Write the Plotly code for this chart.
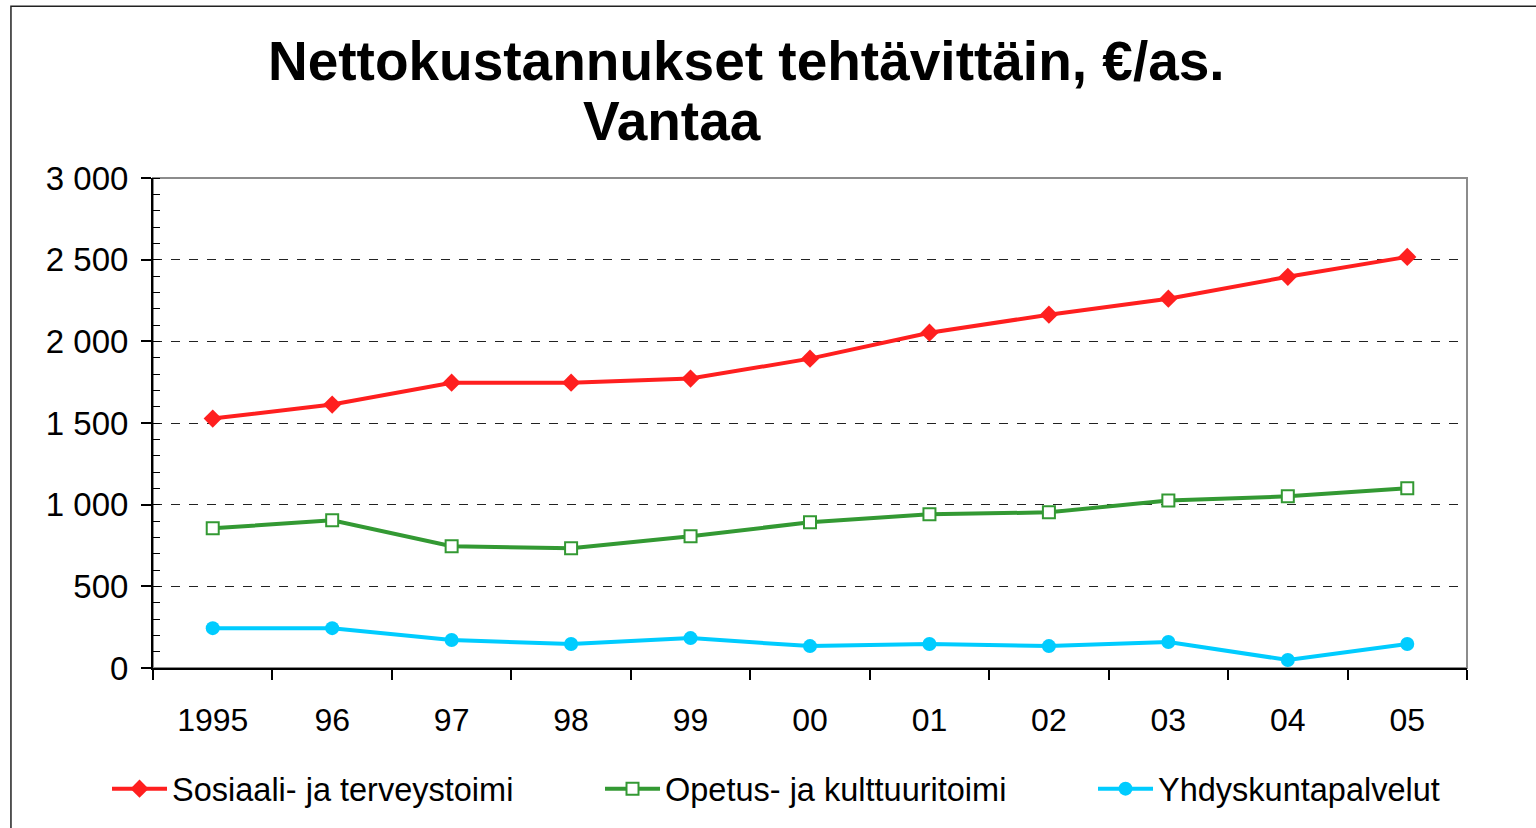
import plotly.graph_objects as go

years = ["1995", "96", "97", "98", "99", "00", "01", "02", "03", "04", "05"]
sosiaali = [1527, 1613, 1747, 1747, 1772, 1894, 2053, 2163, 2261, 2395, 2517]
opetus = [855, 904, 745, 733, 807, 892, 941, 953, 1026, 1051, 1100]
yhdyskunta = [244, 244, 171, 147, 183, 134, 147, 134, 159, 49, 147]

y_ticks = [0, 500, 1000, 1500, 2000, 2500, 3000]
y_ticklabels = ["0", "500", "1 000", "1 500", "2 000", "2 500", "3 000"]

FONT = "Liberation Sans, Arial, sans-serif"

fig = go.Figure()
fig.add_trace(go.Scatter(
    x=years, y=sosiaali, name="Sosiaali- ja terveystoimi", mode="lines+markers",
    line=dict(color="#ff1f1f", width=4),
    marker=dict(symbol="diamond", size=14, color="#ff1f1f"),
    legendwidth=423,
))
fig.add_trace(go.Scatter(
    x=years, y=opetus, name="Opetus- ja kulttuuritoimi", mode="lines+markers",
    line=dict(color="#339933", width=4),
    marker=dict(symbol="square", size=12, color="white", line=dict(color="#339933", width=2)),
    legendwidth=423,
))
fig.add_trace(go.Scatter(
    x=years, y=yhdyskunta, name="Yhdyskuntapalvelut", mode="lines+markers",
    line=dict(color="#00ccff", width=4),
    marker=dict(symbol="circle", size=14, color="#00ccff"),
    legendwidth=300,
))

fig.update_layout(
    width=1536, height=828,
    margin=dict(l=153, r=69, t=178, b=159),
    paper_bgcolor="white", plot_bgcolor="white",
    font=dict(family=FONT, color="black"),
    showlegend=True,
    legend=dict(
        orientation="h", x=-0.035, xanchor="left", y=-0.2444, yanchor="middle",
        font=dict(size=32.5, family=FONT, color="black"),
        itemwidth=55, entrywidthmode="pixels",
        bgcolor="rgba(0,0,0,0)",
    ),
    xaxis=dict(
        type="category", tickson="boundaries", ticks="outside", ticklen=10,
        tickcolor="black", tickwidth=1.5,
        showline=True, linecolor="black", linewidth=2,
        showgrid=False, range=[-0.5, 10.5],
        tickfont=dict(size=32, family=FONT, color="black"),
        ticklabelstandoff=23,
    ),
    yaxis=dict(
        range=[0, 3000], tickvals=y_ticks, ticktext=y_ticklabels,
        ticks="outside", ticklen=10, tickcolor="black", tickwidth=1.5,
        showline=True, linecolor="black", linewidth=2,
        showgrid=True, gridcolor="#222", gridwidth=1, griddash="dash",
        zeroline=False,
        minor=dict(dtick=100, ticks="inside", ticklen=7, tickcolor="black", tickwidth=1.2, showgrid=False),
        tickfont=dict(size=33, family=FONT, color="black"),
        ticklabelstandoff=6,
    ),
    shapes=[
        dict(type="rect", xref="paper", yref="paper", x0=0, y0=0, x1=1, y1=1,
             line=dict(color="#8c8c8c", width=2), layer="below"),
        dict(type="rect", xref="paper", yref="paper", x0=-0.1081, y0=-0.36, x1=1.07, y1=1.3503,
             line=dict(color="#222", width=1.5), layer="below"),
    ],
    annotations=[
        dict(text="<b>Nettokustannukset tehtävittäin, €/as.</b>", xref="paper", yref="paper",
             x=0.4513, y=1.238, xanchor="center", yanchor="middle", showarrow=False,
             font=dict(size=55, family=FONT, color="black")),
        dict(text="<b>Vantaa</b>", xref="paper", yref="paper",
             x=0.395, y=1.117, xanchor="center", yanchor="middle", showarrow=False,
             font=dict(size=55, family=FONT, color="black")),
    ],
)

fig.write_html("out.html", config={"displayModeBar": False},
               post_script="document.body.style.margin='0';")
